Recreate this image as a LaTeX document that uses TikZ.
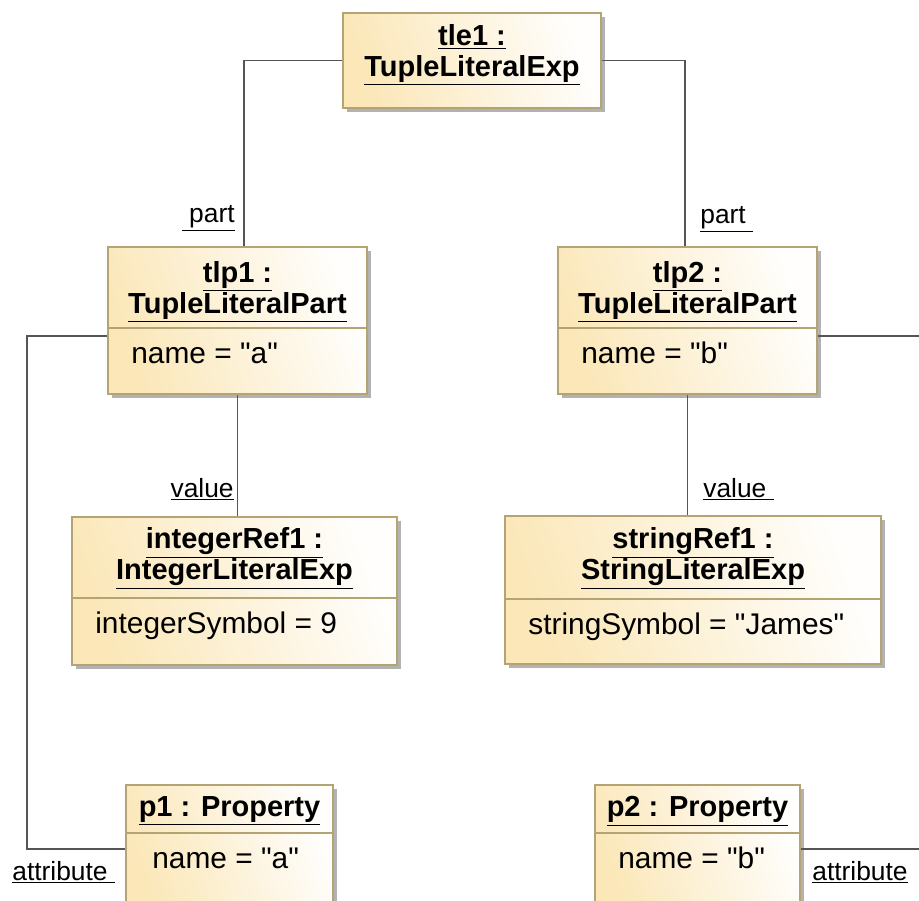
\documentclass[tikz,border=0pt]{standalone}
\usepackage{fontspec}
\setmainfont{Liberation Sans}[Ligatures=TeXOff]
\usepackage{xcolor}
\usetikzlibrary{positioning, calc, shadows}

\definecolor{objfill}{HTML}{FBE7B8}
\definecolor{objedge}{HTML}{B4A474}
\definecolor{linkgray}{HTML}{555555}

\tikzset{
  obj/.style={draw=objedge, line width=1.1pt, inner sep=0pt,
    top color=white!97!objfill, bottom color=objfill, shading angle=-70,
    drop shadow={shadow xshift=0.08cm, shadow yshift=-0.08cm, fill=black, opacity=0.3}},
  divline/.style={draw=objedge, line width=1.1pt},
  head/.style={inner sep=0pt, align=center, font=\fontsize{16.5}{17.6}\selectfont\bfseries},
  attr/.style={inner sep=0pt, font=\fontsize{17}{20}\selectfont},
  role/.style={inner sep=0pt, font=\fontsize{15}{18}\selectfont},
  link/.style={draw=linkgray, line width=1.1pt}
}

\begin{document}
\begin{tikzpicture}[x=0.02cm,y=-0.02cm]
      \clip (0,0) rectangle (919,900);
      % 箱
      \node[obj, minimum width=5.16cm, minimum height=1.90cm] (tle1) at (472,60.5) {};
      \node[obj, minimum width=5.18cm, minimum height=2.94cm] (tlp1) at (237.5,320.5) {};
      \node[obj, minimum width=5.18cm, minimum height=2.94cm] (tlp2) at (687.5,320.5) {};
      \node[obj, minimum width=6.50cm, minimum height=2.96cm] (int1) at (234.5,591) {};
      \node[obj, minimum width=7.52cm, minimum height=2.96cm] (str1) at (693,590) {};
      \node[obj, minimum width=4.14cm, minimum height=2.56cm] (p1) at (229.5,849) {};
      \node[obj, minimum width=4.10cm, minimum height=2.56cm] (p2) at (697.5,849) {};
      % 区切り線
      \draw[divline] (tlp1.west |- 0,328) -- (tlp1.east |- 0,328);
      \draw[divline] (tlp2.west |- 0,328) -- (tlp2.east |- 0,328);
      \draw[divline] (int1.west |- 0,598) -- (int1.east |- 0,598);
      \draw[divline] (str1.west |- 0,599) -- (str1.east |- 0,599);
      \draw[divline] (p1.west |- 0,833) -- (p1.east |- 0,833);
      \draw[divline] (p2.west |- 0,833) -- (p2.east |- 0,833);
      % 名前
      \node[head, anchor=north] (tle1name) at (472,24) {\underline{tle1 :}\\\underline{TupleLiteralExp}};
      \node[head, anchor=north] (tlp1name) at (237.5,261) {\underline{tlp1 :}\\\underline{TupleLiteralPart}};
      \node[head, anchor=north] (tlp2name) at (687.5,261) {\underline{tlp2 :}\\\underline{TupleLiteralPart}};
      \node[head, anchor=north] (int1name) at (234.5,527) {\underline{integerRef1 :}\\\underline{IntegerLiteralExp}};
      \node[head, anchor=north] (str1name) at (693,527) {\underline{stringRef1 :}\\\underline{StringLiteralExp}};
      \node[head, anchor=north] (p1name) at (229.5,796) {\underline{p1 : Property}};
      \node[head, anchor=north] (p2name) at (697.5,796) {\underline{p2 : Property}};
      % 属性
      \node[attr, anchor=base west] (tlp1val) at (131,363) {name = "a"};
      \node[attr, anchor=base west] (tlp2val) at (581,363) {name = "b"};
      \node[attr, anchor=base west] (int1val) at (95,633) {integerSymbol = 9};
      \node[attr, anchor=base west] (str1val) at (528,634) {stringSymbol = "James"};
      \node[attr, anchor=base west] (p1val) at (152,868) {name = "a"};
      \node[attr, anchor=base west] (p2val) at (618,868) {name = "b"};
      % 線
      \draw[link] (tle1.west) -| ([xshift=0.13cm]tlp1.north);
      \draw[link] (tle1.east) -| ([xshift=-0.05cm]tlp2.north);
      \draw[link] (tlp1.south) -- (tlp1.south |- int1.north);
      \draw[link] (tlp2.south) -- (tlp2.south |- str1.north);
      \draw[link] ([yshift=-0.31cm]tlp1.west) -- ++(-80,0) |- (p1.west);
      \draw[link] ([yshift=-0.31cm]tlp2.east) -- ++(130,0) |- (p2.east);
      % 端の名前
      \node[role, anchor=base east] (part1) at (235,222) {\underline{\ part}};
      \node[role, anchor=base west] (part2) at (700,223) {\underline{part\ }};
      \node[role, anchor=base east] (value1) at (234,497) {\underline{value}};
      \node[role, anchor=base west] (value2) at (703,497) {\underline{value\ }};
      \node[role, anchor=base west] (attr1) at (12,880) {\underline{attribute\ }};
      \node[role, anchor=base west] (attr2) at (812,880) {\underline{attribute}};
    \end{tikzpicture}
\end{document}
